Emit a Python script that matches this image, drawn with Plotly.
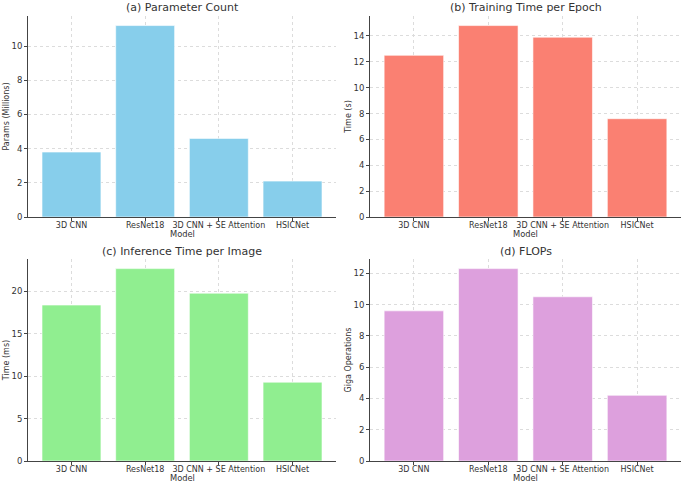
import plotly.graph_objects as go

models = ["3D CNN", "ResNet18", "3D CNN + SE Attention", "HSICNet"]
params_m = [3.8, 11.2, 4.6, 2.1]
train_time_s = [12.5, 14.8, 13.9, 7.6]
infer_time_ms = [18.4, 22.7, 19.8, 9.3]
flops_g = [9.6, 12.3, 10.5, 4.2]

titles = ["(a) Parameter Count", "(b) Training Time per Epoch",
          "(c) Inference Time per Image", "(d) FLOPs"]
ytitles = ["Params (Millions)", "Time (s)", "Time (ms)", "Giga Operations"]
colors = ["#87CEEB", "#FA8072", "#90EE90", "#DDA0DD"]
dticks = [2, 2, 5, 2]
series = [params_m, train_time_s, infer_time_ms, flops_g]

W, H = 685, 484
# pixel boxes (left, right, top, bottom)
boxes = [(28, 336, 16, 217), (370, 681, 16, 217),
         (28, 336, 259, 461), (370, 681, 259, 461)]

fig = go.Figure()
font = "DejaVu Sans"
tc = "#333"
for i, (vals, col) in enumerate(zip(series, colors)):
    xa = "x" if i == 0 else f"x{i+1}"
    ya = "y" if i == 0 else f"y{i+1}"
    fig.add_trace(go.Bar(x=list(range(len(models))), y=vals,
                         marker=dict(color=col, line=dict(color="rgba(255,255,255,0.6)", width=1)),
                         width=0.8, xaxis=xa, yaxis=ya, showlegend=False))
    l, r, t, b = boxes[i]
    xd = [l / W, r / W]
    yd = [1 - b / H, 1 - t / H]
    sfx = "" if i == 0 else str(i + 1)
    ymax = max(vals) * 1.05
    fig.layout["xaxis" + sfx] = dict(
        domain=xd, anchor=ya, range=[-0.59, 3.59], automargin=False,
        tickmode="array", tickvals=list(range(len(models))), ticktext=models,
        tickangle=0, ticklabelstandoff=-3,
        showgrid=True, gridcolor="#dcdcdc", griddash="dot", gridwidth=0.8,
        showline=True, linecolor="#444", linewidth=1, ticks="outside", ticklen=3,
        tickcolor="#444", tickfont=dict(size=8, color=tc, family=font),
        zeroline=False, fixedrange=True)
    fig.layout["yaxis" + sfx] = dict(
        domain=yd, anchor=xa, range=[0, ymax], dtick=dticks[i], automargin=False,
        showgrid=True, gridcolor="#dcdcdc", griddash="dot", gridwidth=0.8,
        showline=True, linecolor="#444", linewidth=1, ticks="outside", ticklen=3,
        tickcolor="#444", tickfont=dict(size=8.5, color=tc, family=font),
        title=dict(text=ytitles[i], font=dict(size=8, color=tc, family=font), standoff=0),
        zeroline=False, fixedrange=True)
    fig.add_annotation(text=titles[i], x=(l + r) / 2 / W, y=1 - (t - 8) / H,
                       xref="paper", yref="paper", showarrow=False,
                       font=dict(size=11, color=tc, family=font),
                       xanchor="center", yanchor="middle")
    fig.add_annotation(text="Model", x=(l + r) / 2 / W, y=1 - (b + 17) / H,
                       xref="paper", yref="paper", showarrow=False,
                       font=dict(size=8.3, color=tc, family=font),
                       xanchor="center", yanchor="middle")

fig.update_layout(width=W, height=H, margin=dict(l=0, r=0, t=0, b=0),
                  paper_bgcolor="white", plot_bgcolor="white", bargap=0.2)
fig.write_html("out.html", config={"displayModeBar": False},
               post_script="document.body.style.margin='0';document.body.style.overflow='hidden';")
